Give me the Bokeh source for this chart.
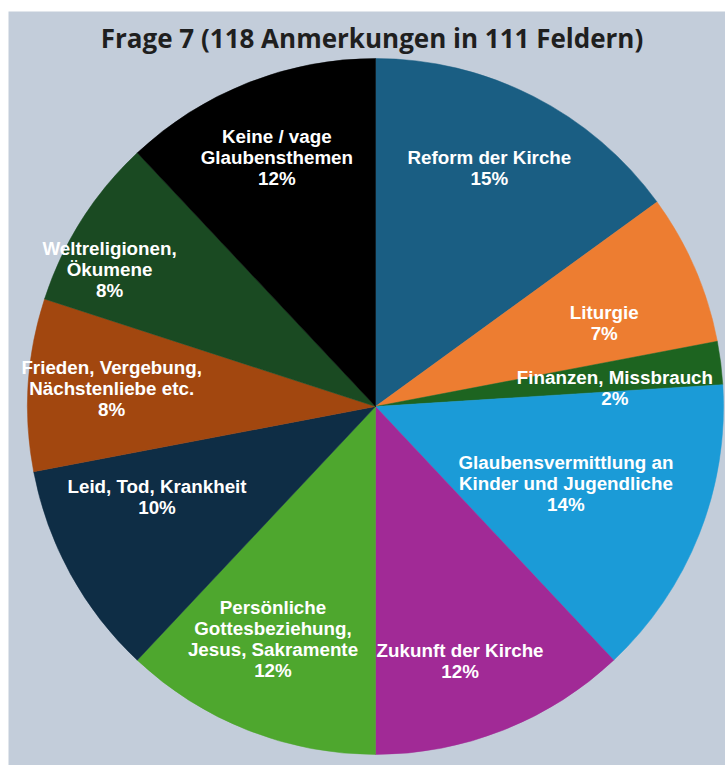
import math
from bokeh.plotting import figure
from bokeh.models import Range1d, ColumnDataSource
from bokeh.core.properties import value
from bokeh.embed import file_html
from bokeh.resources import INLINE

title_text = "Frage 7 (118 Anmerkungen in 111 Feldern)"
categories = [
    "Reform der Kirche",
    "Liturgie",
    "Finanzen, Missbrauch",
    "Glaubensvermittlung an\nKinder und Jugendliche",
    "Zukunft der Kirche",
    "Persönliche\nGottesbeziehung,\nJesus, Sakramente",
    "Leid, Tod, Krankheit",
    "Frieden, Vergebung,\nNächstenliebe etc.",
    "Weltreligionen,\nÖkumene",
    "Keine / vage\nGlaubensthemen",
]
percent = [15, 7, 2, 14, 12, 12, 10, 8, 8, 12]
colors = ["#1A5E83", "#ED7D31", "#1D6420", "#1B9BD7", "#A12A96",
          "#4EA72E", "#0E2D45", "#A2470F", "#1A4A22", "#000000"]

# layout (label placement)
label_r = [0.76, 0.70, 0.69, 0.59, 0.77, 0.73, 0.68, 0.76, 0.86, 0.77]
label_da = [-1.5, 3.3, 2.9, 0.4, 3.2, 2.2, 6.2, 0.4, -5.1, 0.0]

W, H = 725, 765
TOP, LEFT = 11, 8
FW, FH = W - LEFT, H - TOP
cx, cy, R = 367, 359, 348

total = sum(percent)
starts, ends, lx, ly, labels = [], [], [], [], []
cum = 0.0
for i, v in enumerate(percent):
    a0 = cum / total
    cum += v
    a1 = cum / total
    starts.append(math.pi / 2 - 2 * math.pi * a0)
    ends.append(math.pi / 2 - 2 * math.pi * a1)
    mid_deg = (a0 + a1) / 2 * 360 + label_da[i]
    th = math.radians(mid_deg)
    r = label_r[i] * R
    lx.append(cx + r * math.sin(th))
    ly.append(cy + r * math.cos(th))
    labels.append(f"{categories[i]}\n{v}%")

src = ColumnDataSource(dict(start=starts, end=ends, color=colors))
lsrc = ColumnDataSource(dict(x=lx, y=ly, text=labels))

p = figure(width=W, height=H, output_backend="svg", toolbar_location=None,
           x_range=Range1d(0, FW), y_range=Range1d(0, FH),
           min_border_left=LEFT, min_border_right=0, min_border_bottom=0,
           min_border_top=TOP, x_axis_location=None, y_axis_location=None)
p.border_fill_color = "white"
p.background_fill_color = "#C3CDDA"
p.outline_line_color = None
p.xgrid.visible = False
p.ygrid.visible = False

p.wedge(x=cx, y=cy, radius=R, start_angle="start", end_angle="end",
        direction="clock", fill_color="color", line_color="color",
        line_width=0.5, source=src)

p.text(x="x", y="y", text="text", source=lsrc, text_color="white",
       text_font=value("Liberation Sans"), text_font_style="bold",
       text_font_size="18.8px", text_align="center", text_baseline="middle",
       text_line_height=1.0)

p.text(x=[363.5], y=[FH - 26], text=[title_text], text_color="#1F1F1F",
       text_font=value("Open Sans"), text_font_style="bold",
       text_font_size="26px", text_align="center", text_baseline="alphabetic")

open("out.html", "w").write(file_html(p, INLINE))
